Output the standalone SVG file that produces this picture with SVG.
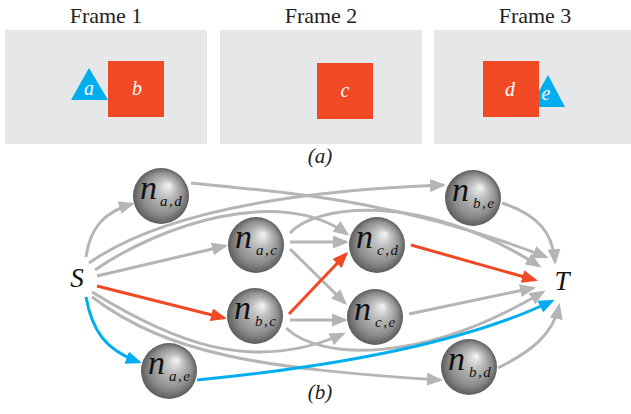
<svg xmlns="http://www.w3.org/2000/svg" width="631" height="414" viewBox="0 0 631 414">
  <defs>
    <radialGradient id="sphere" cx="0.5" cy="0.5" r="0.5" fx="0.64" fy="0.3">
      <stop offset="0" stop-color="#f6f6f6"/>
      <stop offset="0.3" stop-color="#c2c2c2"/>
      <stop offset="0.75" stop-color="#8c8c8c"/>
      <stop offset="1" stop-color="#5c5c5c"/>
    </radialGradient>
    <marker id="ah-gray" viewBox="0 0 16 13" refX="13" refY="6.5" markerWidth="16" markerHeight="13" markerUnits="userSpaceOnUse" orient="auto">
      <path d="M0,0 L16,6.5 L0,13 z" fill="#b5b5b5"/>
    </marker>
    <marker id="ah-red" viewBox="0 0 16 13" refX="13" refY="6.5" markerWidth="16" markerHeight="13" markerUnits="userSpaceOnUse" orient="auto">
      <path d="M0,0 L16,6.5 L0,13 z" fill="#f04923"/>
    </marker>
    <marker id="ah-blue" viewBox="0 0 16 13" refX="13" refY="6.5" markerWidth="16" markerHeight="13" markerUnits="userSpaceOnUse" orient="auto">
      <path d="M0,0 L16,6.5 L0,13 z" fill="#00aeef"/>
    </marker>
  </defs>
  <style>
    text { font-family: 'Liberation Serif', 'DejaVu Serif', serif; }
    .frame { fill: #e6e7e8; }
    .ttl { font-size: 22px; fill: #222; text-anchor: middle; }
    .cap { font-style: italic; font-size: 21px; fill: #222; text-anchor: middle; }
    .obj { font-style: italic; font-size: 20px; fill: #ffffff; text-anchor: middle; }
    .red { fill: #f04923; }
    .blue { fill: #00aeef; }
    .term { font-style: italic; font-size: 27px; fill: #111; text-anchor: middle; }
    .ball { fill: url(#sphere); }
    .n { font-style: italic; font-size: 34px; fill: #111; }
    .sub { font-style: italic; font-size: 15px; fill: #111; letter-spacing: 1.5px; }
    .e { fill: none; stroke: #b5b5b5; stroke-width: 3; marker-end: url(#ah-gray); }
    .e.r { stroke: #f04923; marker-end: url(#ah-red); }
    .e.b { stroke: #00aeef; marker-end: url(#ah-blue); }
  </style>

  <g font-family="Liberation Serif, DejaVu Serif, serif">
  <!-- (a) three frames -->
  <g id="frame1">
    <text class="ttl" x="106" y="23">Frame 1</text>
    <rect class="frame" x="5" y="30" width="202" height="114"/>
    <polygon class="blue" points="89,68 71,100 108,100"/>
    <rect class="red" x="108" y="61" width="56" height="56"/>
    <text class="obj" x="89" y="95">a</text>
    <text class="obj" x="137" y="95">b</text>
  </g>
  <g id="frame2">
    <text class="ttl" x="321" y="23">Frame 2</text>
    <rect class="frame" x="220" y="30" width="202" height="114"/>
    <rect class="red" x="317" y="63" width="56" height="56"/>
    <text class="obj" x="345" y="97">c</text>
  </g>
  <g id="frame3">
    <text class="ttl" x="535" y="23">Frame 3</text>
    <rect class="frame" x="434" y="30" width="197" height="114"/>
    <polygon class="blue" points="548,75 530,107 565,107"/>
    <rect class="red" x="483" y="61" width="56" height="56"/>
    <text class="obj" x="510" y="96">d</text>
    <text class="obj" x="546" y="100">e</text>
  </g>
  <text class="cap" x="320" y="163">(a)</text>

  <!-- (b) graph connectors -->
  <g id="connectors">
    <path class="e" d="M86,257 C90,228 104,212 132,204"/>
    <path class="e" d="M89,263 C150,220 260,192 443,185"/>
    <path class="e" d="M95,270 C160,225 280,185 347,234"/>
    <path class="e" d="M97,276 L225,246"/>
    <path class="e" d="M92,292 C170,340 250,375 343,334"/>
    <path class="e" d="M92,297 C170,355 260,368 440,380"/>
    <path class="e" d="M191,183 C290,193 400,200 546,257"/>
    <path class="e" d="M290,233 C315,205 420,190 539,266"/>
    <path class="e" d="M290,242 L346,242"/>
    <path class="e" d="M290,249 L345,303"/>
    <path class="e" d="M290,320 L345,320"/>
    <path class="e" d="M286,328 C320,360 420,365 543,292"/>
    <path class="e" d="M409,314 L533,288"/>
    <path class="e" d="M502,203 C540,215 553,235 555,262"/>
    <path class="e" d="M498,368 C530,352 553,335 559,306"/>
    <path class="e r" d="M97,286 L224,318"/>
    <path class="e r" d="M289,314 L346,254"/>
    <path class="e r" d="M411,245 L535,280"/>
    <path class="e b" d="M86,297 C92,330 105,350 139,362"/>
    <path class="e b" d="M197,380 C300,370 450,350 552,301"/>
  </g>

  <!-- (b) graph nodes -->
  <g id="S"><text class="term" x="77" y="287">S</text></g>
  <g id="T"><text class="term" x="562" y="290">T</text></g>
  <g id="n_ad">
    <circle class="ball" cx="161" cy="196" r="28"/>
    <text class="n" x="140" y="199">n</text><text class="sub" x="160" y="206">a,d</text>
  </g>
  <g id="n_ac">
    <circle class="ball" cx="256" cy="245" r="28"/>
    <text class="n" x="235" y="248">n</text><text class="sub" x="256" y="255">a,c</text>
  </g>
  <g id="n_bc">
    <circle class="ball" cx="255" cy="316" r="28"/>
    <text class="n" x="234" y="319">n</text><text class="sub" x="255" y="326">b,c</text>
  </g>
  <g id="n_ae">
    <circle class="ball" cx="169" cy="371" r="28"/>
    <text class="n" x="148" y="374">n</text><text class="sub" x="169" y="381">a,e</text>
  </g>
  <g id="n_be">
    <circle class="ball" cx="473" cy="198" r="28"/>
    <text class="n" x="452" y="201">n</text><text class="sub" x="473" y="208">b,e</text>
  </g>
  <g id="n_cd">
    <circle class="ball" cx="377" cy="245" r="28"/>
    <text class="n" x="356" y="248">n</text><text class="sub" x="377" y="255">c,d</text>
  </g>
  <g id="n_ce">
    <circle class="ball" cx="375" cy="317" r="28"/>
    <text class="n" x="354" y="320">n</text><text class="sub" x="375" y="327">c,e</text>
  </g>
  <g id="n_bd">
    <circle class="ball" cx="469" cy="367" r="28"/>
    <text class="n" x="448" y="370">n</text><text class="sub" x="469" y="377">b,d</text>
  </g>
  <text class="cap" x="320" y="399">(b)</text>
  </g>
</svg>
